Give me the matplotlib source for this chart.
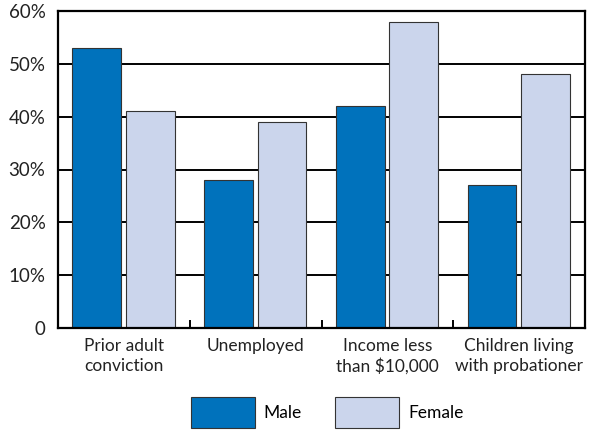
import matplotlib.pyplot as plt
import numpy as np

plt.rcParams['font.family'] = ['Lato', 'DejaVu Sans']

categories = ["Prior adult\nconviction", "Unemployed", "Income less\nthan $10,000", "Children living\nwith probationer"]
male = [53, 28, 42, 27]
female = [41, 39, 58, 48]
yticks = [0, 10, 20, 30, 40, 50, 60]
ylabels = ["0", "10%", "20%", "30%", "40%", "50%", "60%"]

fig = plt.figure(figsize=(5.98, 4.32), dpi=100)
ax = fig.add_axes([58/598, 1 - 328/432, 527/598, 317/432])

x = np.arange(len(categories))
w = 0.37
ax.bar(x - 0.205, male, w, color='#0072bc', edgecolor='#333333', linewidth=0.8, label='Male', zorder=3)
ax.bar(x + 0.2, female, w, color='#cbd5ec', edgecolor='#333333', linewidth=0.8, label='Female', zorder=3)

ax.set_xlim(-0.5, 3.5)
ax.set_ylim(0, 60)
ax.set_yticks(yticks)
ax.set_yticklabels(ylabels, fontsize=13.5, color='#222222')
ax.tick_params(axis='y', length=0, pad=9)
for t in yticks[1:-1]:
    ax.axhline(t, color='black', linewidth=1.4, zorder=1)

ax.set_xticks(x)
ax.set_xticklabels(categories, fontsize=12.5, color='#222222', linespacing=1.3)
ax.tick_params(axis='x', length=0, pad=7)
ax.set_xticks([0.5, 1.5, 2.5], minor=True)
ax.tick_params(axis='x', which='minor', direction='in', length=6, width=1.4, color='black')

for s in ax.spines.values():
    s.set_linewidth(1.6)
    s.set_color('black')
    s.set_zorder(4)

fig.legend(loc='lower center', bbox_to_anchor=(0.547, -0.026), ncol=2, frameon=False,
           fontsize=12.5, handlelength=3.7, handleheight=2.35, columnspacing=1.9,
           handletextpad=0.5)

fig.savefig('out.png', dpi=100)
